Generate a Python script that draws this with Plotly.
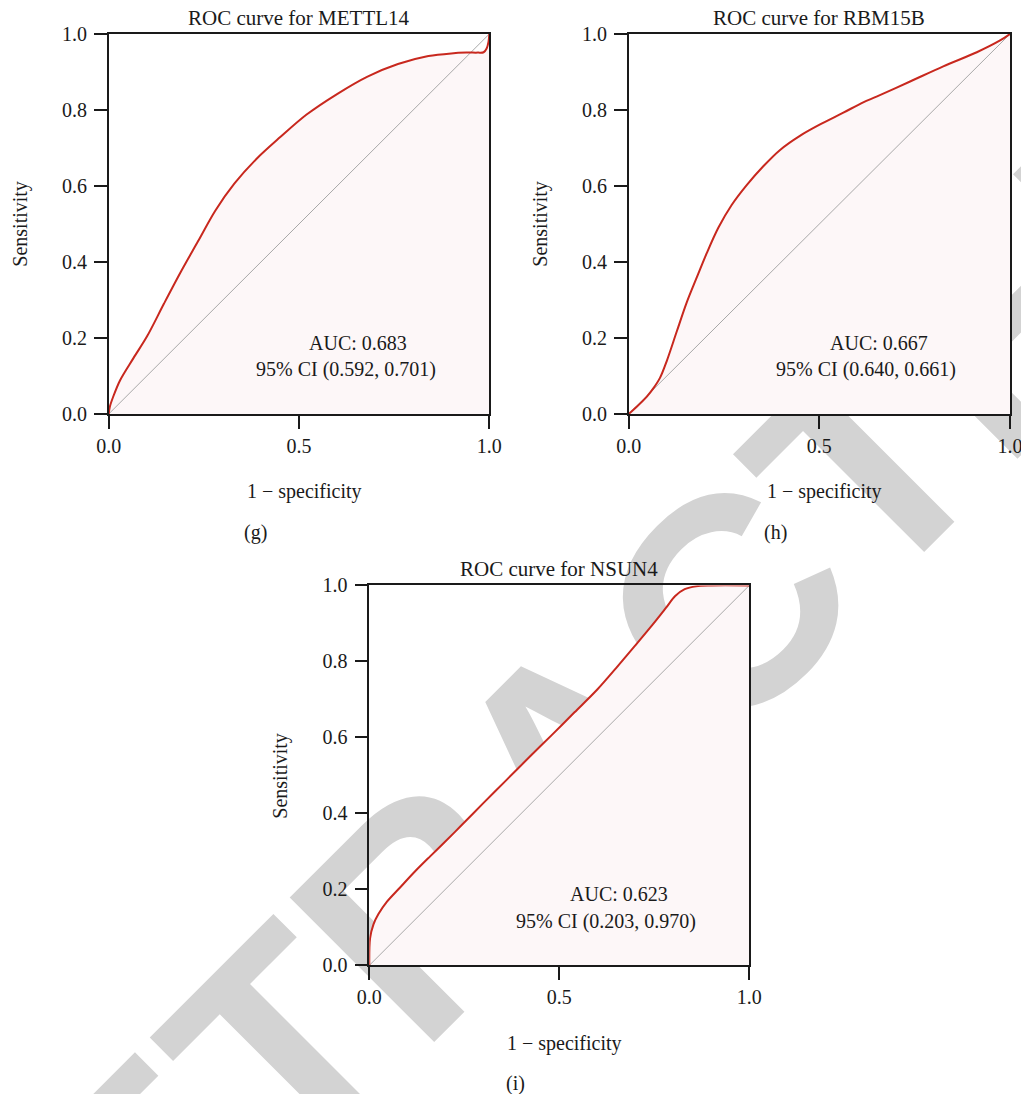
import plotly.graph_objects as go

# ---------------- data ----------------
mettl14_fpr = [0, 0.003, 0.012, 0.03, 0.065, 0.1, 0.145, 0.19, 0.235, 0.28, 0.33, 0.39, 0.45, 0.52,
               0.6, 0.68, 0.76, 0.84, 0.9, 0.94, 0.97, 0.985, 0.993, 0.998, 1.0]
mettl14_tpr = [0, 0.019, 0.046, 0.089, 0.147, 0.203, 0.29, 0.375, 0.455, 0.535, 0.606, 0.673, 0.728, 0.788,
               0.842, 0.888, 0.921, 0.942, 0.949, 0.951, 0.951, 0.952, 0.962, 0.98, 1.0]

rbm15b_fpr = [0, 0.021, 0.047, 0.065, 0.082, 0.1, 0.126, 0.152, 0.178, 0.205, 0.235, 0.27, 0.31, 0.353,
              0.397, 0.449, 0.502, 0.563, 0.615, 0.65, 0.738, 0.825, 0.913, 0.974, 1.0]
rbm15b_tpr = [0, 0.019, 0.045, 0.068, 0.095, 0.14, 0.217, 0.293, 0.358, 0.424, 0.49, 0.55, 0.603, 0.652,
              0.695, 0.732, 0.762, 0.793, 0.82, 0.835, 0.875, 0.915, 0.952, 0.983, 1.0]

nsun4_fpr = [0, 0.002, 0.011, 0.024, 0.046, 0.081, 0.12, 0.16, 0.2, 0.24, 0.3, 0.36, 0.42, 0.48,
             0.54, 0.6, 0.65, 0.7, 0.745, 0.78, 0.805, 0.83, 0.86, 0.9, 1.0]
nsun4_tpr = [0, 0.071, 0.108, 0.135, 0.167, 0.205, 0.247, 0.287, 0.326, 0.366, 0.427, 0.487, 0.547, 0.606,
             0.666, 0.726, 0.783, 0.842, 0.896, 0.94, 0.972, 0.99, 0.998, 1.0, 1.0]

chance_line = [0.0, 1.0]
genes = ["METTL14", "RBM15B", "NSUN4"]
auc_values = ["0.683", "0.667", "0.623"]
ci_values = ["(0.592, 0.701)", "(0.640, 0.661)", "(0.203, 0.970)"]
panel_tags = ["(g)", "(h)", "(i)"]
x_tick_vals = [0.0, 0.5, 1.0]
y_tick_vals = [0.0, 0.2, 0.4, 0.6, 0.8, 1.0]

fprs = [mettl14_fpr, rbm15b_fpr, nsun4_fpr]
tprs = [mettl14_tpr, rbm15b_tpr, nsun4_tpr]

# ---------------- layout geometry (pixels) ----------------
W, H = 1021, 1094
boxes = [(108.7, 489.3, 34, 414), (628.7, 1010, 34, 414), (369.3, 749.3, 585.4, 965.4)]


def px(x):
    return x / W


def py(y):
    return 1 - y / H


SERIF = "Liberation Serif"
INK = "#1a1a1a"
RED = "#c8281e"
FILL = "#fdf7f8"

fig = go.Figure()

# watermark (behind everything)
fig.add_shape(type="line", xref="paper", yref="paper",
              x0=px(355), y0=py(936), x1=px(755), y1=py(536),
              line=dict(color="rgba(0,0,0,0)", width=0), layer="below",
              label=dict(text="<b>RETRACTED</b>", textangle=-45, textposition="middle",
                         xanchor="center", yanchor="middle",
                         font=dict(family="Liberation Sans", size=297, color="#d3d3d3")))

for i in range(3):
    sfx = "" if i == 0 else str(i + 1)
    xa, ya = "x" + sfx, "y" + sfx
    x0, x1, y0, y1 = boxes[i]

    fig.add_trace(go.Scatter(x=fprs[i], y=tprs[i], mode="lines", fill="tozeroy", fillcolor=FILL,
                             line=dict(width=0, color=FILL, shape="spline", smoothing=0.9),
                             xaxis=xa, yaxis=ya, showlegend=False, hoverinfo="skip"))
    fig.add_trace(go.Scatter(x=chance_line, y=chance_line, mode="lines",
                             line=dict(width=1, color="#a8a8a8"),
                             xaxis=xa, yaxis=ya, showlegend=False, hoverinfo="skip"))
    fig.add_trace(go.Scatter(x=fprs[i], y=tprs[i], mode="lines",
                             line=dict(width=2, color=RED, shape="spline", smoothing=0.9),
                             xaxis=xa, yaxis=ya, showlegend=False))

    common = dict(showline=True, linecolor=INK, linewidth=1.5, mirror=True, ticks="outside",
                  ticklen=13, tickwidth=1.5, tickcolor=INK, showgrid=False, zeroline=False,
                  range=[0, 1], tickformat=".1f", automargin=False, ticklabeloverflow="allow",
                  tickfont=dict(family=SERIF, size=20, color=INK))
    fig.layout["xaxis" + sfx] = dict(common, domain=[px(x0), px(x1)], anchor=ya, tickvals=x_tick_vals)
    fig.layout["yaxis" + sfx] = dict(common, domain=[py(y1), py(y0)], anchor=xa, tickvals=y_tick_vals,
                                     ticklabelstandoff=3)

    cx = (x0 + x1) / 2
    cy = (y0 + y1) / 2
    ann = [
        (cx, y0 - 16, "ROC curve for " + genes[i], 0, 21),
        (x0 - 89, cy, "Sensitivity", -90, 20),
        (cx + 5, y1 + 78, "1 \u2212 specificity", 0, 20),
        (cx - 44, y1 + 118, panel_tags[i], 0, 20),
    ]
    for (ax_, ay_, txt, ang, fs) in ann:
        fig.add_annotation(x=px(ax_), y=py(ay_), xref="paper", yref="paper", text=txt,
                           showarrow=False, textangle=ang, xanchor="center", yanchor="middle",
                           font=dict(family=SERIF, size=fs, color=INK))
    fig.add_annotation(x=0.656, y=0.187, xref=xa, yref=ya, text="AUC: " + auc_values[i],
                       showarrow=False, xanchor="center", yanchor="middle",
                       font=dict(family=SERIF, size=20, color=INK))
    fig.add_annotation(x=0.623, y=0.116, xref=xa, yref=ya, text="95% CI " + ci_values[i],
                       showarrow=False, xanchor="center", yanchor="middle",
                       font=dict(family=SERIF, size=20, color=INK))

fig.update_layout(width=W, height=H, margin=dict(l=0, r=0, t=0, b=0, autoexpand=False),
                  paper_bgcolor="white", plot_bgcolor="rgba(0,0,0,0)", showlegend=False)

fig.write_html("out.html")
